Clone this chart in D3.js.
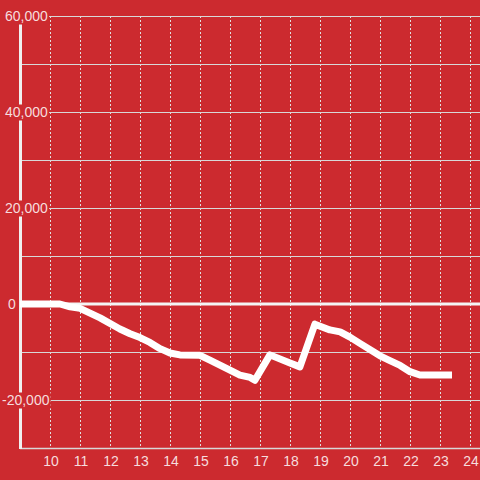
<!DOCTYPE html>
<html>
<head>
<meta charset="utf-8">
<script src="https://cdn.jsdelivr.net/npm/d3@7"></script>
<style>
  html, body { margin: 0; padding: 0; background: #cc2a2f; }
  svg { display: block; }
</style>
</head>
<body>
<svg id="chart"></svg>
<script>
// hour of day, running balance
const hours = [9, 10.33, 10.67, 11, 11.67, 12.33, 12.67, 13, 13.33, 13.67, 14, 14.33, 15, 15.33, 16,
  16.33, 16.67, 16.83, 17.33, 18, 18.33, 18.83, 19.33, 19.67, 20, 20.33, 21, 21.33, 21.67, 22, 22.33, 23.4];
const values = [0, 0, -600, -900, -2900, -5200, -6200, -7000, -8000, -9300, -10200, -10600, -10700, -11700, -13800,
  -14800, -15300, -15900, -10600, -12300, -13100, -4200, -5400, -5800, -6900, -8200, -10800, -11800, -12800, -14100, -14800, -14800];

const xTicks = [10, 11, 12, 13, 14, 15, 16, 17, 18, 19, 20, 21, 22, 23, 24];
const yGrid = [-30000, -20000, -10000, 0, 10000, 20000, 30000, 40000, 50000, 60000];
const yLabels = [-20000, 0, 20000, 40000, 60000];

const width = 480, height = 480;
const bg = '#cc2a2f';

const svg = d3.select('#chart')
    .attr('width', width)
    .attr('height', height);

svg.append('rect')
    .attr('width', width)
    .attr('height', height)
    .attr('fill', bg);

const x = d3.scaleLinear().domain([9, 24.333]).range([20, 480]);
const y = d3.scaleLinear().domain([-30000, 60000]).range([448, 16]);

// vertical dashed grid
svg.append('g')
    .selectAll('line')
    .data(xTicks)
    .join('line')
    .attr('x1', d => x(d) + 0.5)
    .attr('x2', d => x(d) + 0.5)
    .attr('y1', y(60000))
    .attr('y2', y(-30000))
    .attr('stroke', '#e0e0e0')
    .attr('stroke-width', 1)
    .attr('stroke-dasharray', '2,2');

// horizontal grid
svg.append('g')
    .selectAll('line')
    .data(yGrid.filter(d => d !== 0 && d !== -30000))
    .join('line')
    .attr('x1', x(9))
    .attr('x2', width)
    .attr('y1', d => y(d) + 0.5)
    .attr('y2', d => y(d) + 0.5)
    .attr('stroke', '#d8d8d8')
    .attr('stroke-width', 1);

// bottom axis line
svg.append('line')
    .attr('x1', x(9))
    .attr('x2', width)
    .attr('y1', y(-30000) + 0.5)
    .attr('y2', y(-30000) + 0.5)
    .attr('stroke', '#d8d8d8')
    .attr('stroke-width', 1.5);

// left axis line
svg.append('line')
    .attr('x1', x(9) + 0.5)
    .attr('x2', x(9) + 0.5)
    .attr('y1', 24)
    .attr('y2', y(-30000) + 1)
    .attr('stroke', '#f0f0f0')
    .attr('stroke-width', 3);

// zero line
svg.append('line')
    .attr('x1', x(9))
    .attr('x2', width)
    .attr('y1', y(0))
    .attr('y2', y(0))
    .attr('stroke', '#f4f4f4')
    .attr('stroke-width', 3);

// data line
const line = d3.line()
    .x((d, i) => x(hours[i]))
    .y(d => y(d));

svg.append('path')
    .datum(values)
    .attr('fill', 'none')
    .attr('stroke', '#ffffff')
    .attr('stroke-width', 7)
    .attr('stroke-linejoin', 'round')
    .attr('stroke-linecap', 'butt')
    .attr('d', line);

// y labels with background
const fmt = d3.format(',');
const yl = svg.append('g')
    .selectAll('g')
    .data(yLabels)
    .join('g')
    .attr('transform', d => `translate(5,${y(d) + 0.5})`);

yl.append('text')
    .attr('font-family', '"Liberation Sans", Arial, sans-serif')
    .attr('font-size', 14)
    .attr('fill', 'rgba(255,255,255,0.85)')
    .attr('dy', '0.35em')
    .attr('x', d => d < 0 ? -3 : (d === 0 ? 3 : 0))
    .text(d => fmt(d).replace('−', '-'))
    .each(function () {
        const b = this.getBBox();
        d3.select(this.parentNode).insert('rect', 'text')
            .attr('x', b.x - 1)
            .attr('y', -8)
            .attr('width', b.width + 2)
            .attr('height', 16)
            .attr('fill', bg);
    });

// x labels
svg.append('g')
    .selectAll('text')
    .data(xTicks)
    .join('text')
    .attr('x', d => x(d) + 1)
    .attr('y', 466)
    .attr('text-anchor', 'middle')
    .attr('font-family', '"Liberation Sans", Arial, sans-serif')
    .attr('font-size', 14)
    .attr('fill', 'rgba(255,255,255,0.85)')
    .text(d => d);
</script>
</body>
</html>
